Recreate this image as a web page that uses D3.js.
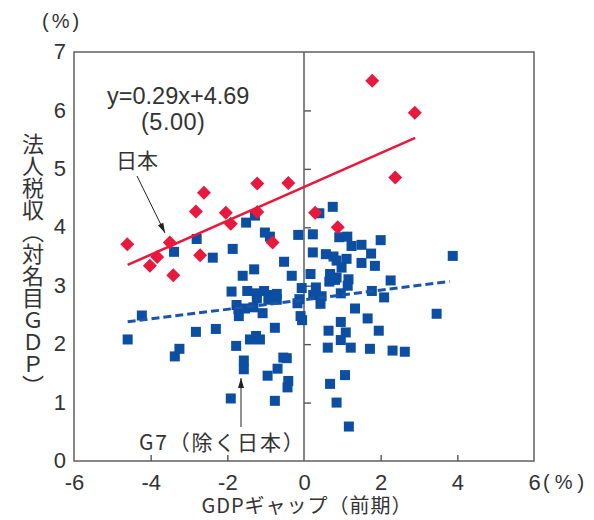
<!DOCTYPE html>
<html>
<head>
<meta charset="utf-8">
<script src="https://cdn.jsdelivr.net/npm/d3@7"></script>
<style>
  body { margin: 0; background: #fff; }
  text { font-family: "Noto Sans CJK JP", "Noto Sans", sans-serif; fill: #333; }
  .num { font-family: "Liberation Sans", Arial, sans-serif; }
</style>
</head>
<body>
<script>
// 日本 (GDPギャップ, 法人税収)
const japan = [
  [-4.61, 3.71], [-3.83, 3.49], [-4.02, 3.34], [-3.50, 3.74], [-3.41, 3.18],
  [-2.71, 3.52], [-2.82, 4.27], [-2.61, 4.59], [-2.04, 4.25], [-1.91, 4.06],
  [-1.22, 4.75], [-1.22, 4.26], [-0.41, 4.76], [-0.82, 3.74], [0.29, 4.25],
  [0.88, 4.00], [1.78, 6.51], [2.89, 5.96], [2.38, 4.85]
];

// G7（除く日本）
const g7 = [
  [-4.60, 2.08], [-4.23, 2.49], [-3.39, 3.58], [-3.25, 1.92], [-3.37, 1.79],
  [-2.80, 3.80], [-2.82, 2.21], [-2.38, 3.48], [-2.30, 2.26], [-1.86, 3.63],
  [-1.51, 4.08], [-1.28, 4.20], [-1.02, 3.91], [-0.89, 3.84], [-0.15, 3.87],
  [-0.52, 3.41], [-1.30, 3.28], [-1.60, 3.17], [-0.32, 3.17], [-1.89, 2.90],
  [-1.48, 2.91], [-1.23, 2.87], [-1.04, 2.91], [-0.89, 2.84], [-0.71, 2.86],
  [-0.93, 2.76], [-0.71, 2.76], [-1.23, 2.78], [-0.06, 2.96], [-0.12, 2.77],
  [-0.17, 2.70], [-1.76, 2.67], [-1.71, 2.60], [-1.54, 2.61], [-1.32, 2.63],
  [-1.70, 2.48], [-1.08, 2.53], [-0.09, 2.48], [-0.05, 2.41], [-0.76, 2.28],
  [-1.77, 1.97], [-1.41, 2.08], [-1.25, 2.14], [-1.15, 2.08], [-1.57, 1.72],
  [-1.57, 1.57], [-0.54, 1.77], [-0.45, 1.76], [-0.69, 1.58], [-0.95, 1.46],
  [-0.41, 1.37], [-0.43, 1.26], [-1.91, 1.07], [-0.76, 1.03],
  [0.40, 4.24], [0.75, 4.35], [0.23, 3.88], [0.92, 3.83], [1.13, 3.84],
  [1.24, 3.68], [1.50, 3.70], [2.00, 3.78], [0.23, 3.57], [0.57, 3.54],
  [0.77, 3.50], [0.85, 3.43], [1.11, 3.46], [1.75, 3.55], [1.50, 3.39],
  [1.85, 3.34], [0.98, 3.31], [3.88, 3.51], [0.17, 3.20], [0.68, 3.20],
  [0.85, 3.14], [0.66, 3.07], [0.81, 3.10], [1.16, 3.11], [1.14, 3.00],
  [2.26, 3.09], [0.31, 2.97], [0.24, 2.84], [0.46, 2.82], [0.96, 2.87],
  [1.77, 2.91], [2.09, 2.80], [0.43, 2.69], [1.33, 2.61], [0.96, 2.38],
  [1.66, 2.44], [3.46, 2.52], [0.64, 2.23], [1.09, 2.20], [1.95, 2.23],
  [0.96, 2.07], [0.62, 1.94], [1.22, 1.94], [1.72, 1.92], [2.31, 1.89],
  [2.63, 1.87], [1.07, 1.47], [0.68, 1.32], [0.85, 1.00], [1.17, 0.59]
];

// 回帰線 [傾き, 切片, x開始, x終了]
const japanFit = [0.29, 4.69, -4.6, 2.9];
const g7Fit = [0.082, 2.76, -4.6, 3.8];

const xTicks = [-6, -4, -2, 0, 2, 4, 6];
const yTicks = [0, 1, 2, 3, 4, 5, 6, 7];

const width = 594, height = 520;
const plotL = 74, plotR = 534, plotT = 52, plotB = 461;

const svg = d3.select("body").append("svg")
    .attr("width", width)
    .attr("height", height);

const x = d3.scaleLinear().domain([-6, 6]).range([plotL, plotR]);
const y = d3.scaleLinear().domain([0, 7]).range([plotB, plotT]);

// frame
svg.append("rect")
    .attr("x", plotL).attr("y", plotT)
    .attr("width", plotR - plotL).attr("height", plotB - plotT)
    .attr("fill", "none").attr("stroke", "#555").attr("stroke-width", 1.4);

// tick labels
const yAxis = svg.append("g")
    .attr("transform", `translate(${plotL},0)`)
    .call(d3.axisLeft(y).tickValues(yTicks).tickSize(0).tickPadding(8).tickFormat(d => String(d)));
yAxis.select(".domain").remove();
yAxis.selectAll("text").attr("class", "num").style("font-size", "22px").attr("fill", "#333").attr("dy", "0.3em");

const xAxis = svg.append("g")
    .attr("transform", `translate(0,${plotB})`)
    .call(d3.axisBottom(x).tickValues(xTicks).tickSize(0).tickPadding(13).tickFormat(d => String(d)));
xAxis.select(".domain").remove();
xAxis.selectAll("text").attr("class", "num").style("font-size", "22px").attr("fill", "#333");

// vertical zero line with ticks
const zeroAxis = svg.append("g")
    .attr("transform", `translate(${x(0)},0)`)
    .call(d3.axisRight(y).tickValues([1, 2, 3, 4, 5, 6]).tickSize(7).tickFormat(""));
zeroAxis.select(".domain").remove();
zeroAxis.selectAll("line").attr("stroke", "#555").attr("stroke-width", 1.4);
svg.append("line")
    .attr("x1", x(0)).attr("x2", x(0)).attr("y1", plotT).attr("y2", plotB)
    .attr("stroke", "#666").attr("stroke-width", 1.6);

// bottom ticks pointing up
const xInner = svg.append("g")
    .attr("transform", `translate(0,${plotB})`)
    .call(d3.axisTop(x).tickValues([-4, -2, 2, 4]).tickSize(6).tickFormat(""));
xInner.select(".domain").remove();
xInner.selectAll("line").attr("stroke", "#555").attr("stroke-width", 1.4);

// G7 squares
const sq = 10;
svg.append("g").selectAll("rect")
    .data(g7)
    .join("rect")
    .attr("x", d => x(d[0]) - sq / 2)
    .attr("y", d => y(d[1]) - sq / 2)
    .attr("width", sq).attr("height", sq)
    .attr("fill", "#0b4ea2");

// G7 fit line (dashed)
svg.append("line")
    .attr("x1", x(g7Fit[2])).attr("y1", y(g7Fit[0] * g7Fit[2] + g7Fit[1]))
    .attr("x2", x(g7Fit[3])).attr("y2", y(g7Fit[0] * g7Fit[3] + g7Fit[1]))
    .attr("stroke", "#1a55a8").attr("stroke-width", 3)
    .attr("stroke-dasharray", "8,4");

// Japan fit line
svg.append("line")
    .attr("x1", x(japanFit[2])).attr("y1", y(japanFit[0] * japanFit[2] + japanFit[1]))
    .attr("x2", x(japanFit[3])).attr("y2", y(japanFit[0] * japanFit[3] + japanFit[1]))
    .attr("stroke", "#e8193c").attr("stroke-width", 2.6);

// Japan diamonds
const dm = 7;
svg.append("g").selectAll("path")
    .data(japan)
    .join("path")
    .attr("d", d => {
      const cx = x(d[0]), cy = y(d[1]);
      return `M${cx},${cy - dm}L${cx + dm},${cy}L${cx},${cy + dm}L${cx - dm},${cy}Z`;
    })
    .attr("fill", "#e8193c");

// arrows
svg.append("defs").append("marker")
    .attr("id", "ah")
    .attr("viewBox", "0 0 10 10")
    .attr("refX", 10).attr("refY", 5)
    .attr("markerWidth", 12).attr("markerHeight", 10)
    .attr("markerUnits", "userSpaceOnUse")
    .attr("orient", "auto")
    .append("path").attr("d", "M0,2L10,5L0,8Z").attr("fill", "#222");

svg.append("line")
    .attr("x1", 137).attr("y1", 176).attr("x2", 165).attr("y2", 233)
    .attr("stroke", "#222").attr("stroke-width", 1)
    .attr("marker-end", "url(#ah)");
svg.append("line")
    .attr("x1", 241).attr("y1", 427).attr("x2", 241).attr("y2", 378)
    .attr("stroke", "#222").attr("stroke-width", 1)
    .attr("marker-end", "url(#ah)");

// texts
const txt = (s, tx, ty, size, anchor) => svg.append("text")
    .attr("x", tx).attr("y", ty)
    .attr("text-anchor", anchor || "start")
    .style("font-size", size + "px")
    .text(s);

txt("(%)", 42, 28, 20).attr("class", "num").style("letter-spacing", "3px");
txt("y=0.29x+4.69", 107, 104, 23.5).attr("class", "num");
txt("(5.00)", 141, 130, 23.5).attr("class", "num").style("letter-spacing", "0.5px");
txt("日本", 116, 168, 21);
txt("G7（除く日本）", 139, 450, 21).style("letter-spacing", "1.8px");
txt("GDPギャップ（前期）", 307, 513, 20, "middle").style("letter-spacing", "1px");
txt("(%)", 543, 489, 20).attr("class", "num").style("letter-spacing", "5px");

svg.append("text")
    .attr("x", 33).attr("y", 133)
    .style("writing-mode", "vertical-rl")
    .style("font-size", "22px")
    .text("法人税収（対名目ＧＤＰ）");
</script>
</body>
</html>
